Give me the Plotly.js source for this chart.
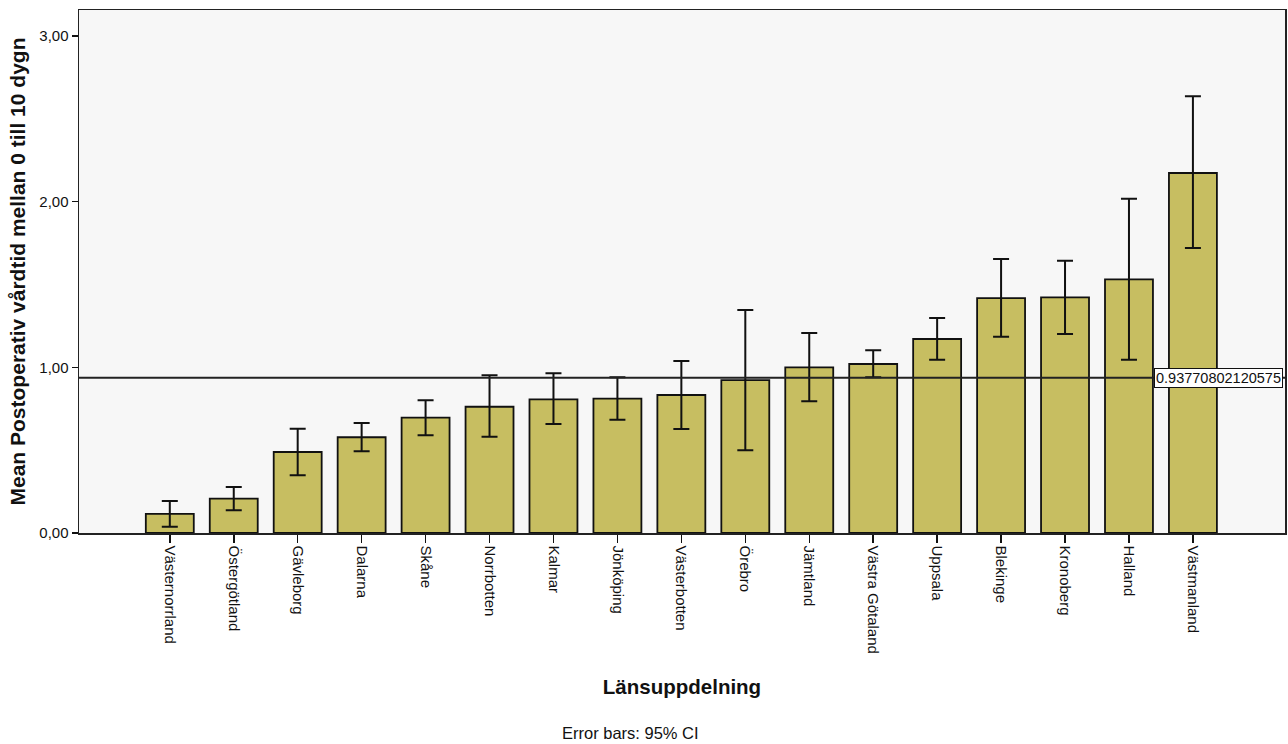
<!DOCTYPE html>
<html>
<head>
<meta charset="utf-8">
<script src="https://cdn.plot.ly/plotly-3.0.1.min.js"></script>
<style>html,body{margin:0;padding:0;background:#fff;}#chart{width:1288px;height:744px;}</style>
</head>
<body>
<div id="chart"></div>
<script>
const categories = ["Västernorrland","Östergötland","Gävleborg","Dalarna","Skåne","Norrbotten","Kalmar","Jönköping","Västerbotten","Örebro","Jämtland","Västra Götaland","Uppsala","Blekinge","Kronoberg","Halland","Västmanland"];
const means   = [0.115, 0.207, 0.489, 0.578, 0.696, 0.762, 0.807, 0.811, 0.833, 0.923, 1.000, 1.020, 1.171, 1.418, 1.422, 1.531, 2.173];
const ciUpper = [0.193, 0.278, 0.630, 0.664, 0.801, 0.952, 0.964, 0.940, 1.038, 1.346, 1.207, 1.103, 1.298, 1.654, 1.643, 2.018, 2.636];
const ciLower = [0.038, 0.137, 0.348, 0.493, 0.590, 0.581, 0.658, 0.684, 0.628, 0.499, 0.795, 0.940, 1.046, 1.185, 1.201, 1.046, 1.720];
const refValue = 0.93770802120575;
const refLabel = "0.93770802120575";

const errPlus = means.map((m,i)=>ciUpper[i]-m);
const errMinus = means.map((m,i)=>m-ciLower[i]);
const xIdx = categories.map((c,i)=>i);

const trace = {
  type: 'bar',
  x: xIdx,
  y: means,
  width: 0.75,
  marker: {color: '#c7be61', line: {color: '#111', width: 1.8}},
  error_y: {type: 'data', symmetric: false, array: errPlus, arrayminus: errMinus, color: '#111', thickness: 2, width: 8},
  hoverinfo: 'skip'
};

const font = "Liberation Sans, Arial, sans-serif";
const layout = {
  width: 1288, height: 744,
  margin: {l: 79, r: 3, t: 10, b: 211},
  paper_bgcolor: '#ffffff',
  plot_bgcolor: '#f7f7f7',
  separators: ',.',
  showlegend: false,
  font: {family: font, color: '#111', size: 15},
  xaxis: {
    range: [-1.42, 17.44],
    tickmode: 'array', tickvals: xIdx, ticktext: categories,
    tickangle: 90, ticks: 'outside', ticklen: 8, tickwidth: 1.5, tickcolor: '#111',
    showgrid: false, zeroline: false,
    showline: true, linecolor: '#222', linewidth: 1.5, mirror: true,
    tickfont: {family: font, size: 15, color: '#111'},
    title: {text: 'Länsuppdelning', font: {family: font, size: 20.5, color: '#111', weight: 'bold'}, standoff: 26}
  },
  yaxis: {
    range: [0, 3.157],
    tickvals: [0, 1, 2, 3], tickformat: '.2f',
    ticks: 'outside', ticklen: 6, tickwidth: 1.5, tickcolor: '#111',
    showgrid: false, zeroline: false,
    showline: true, linecolor: '#222', linewidth: 1.5, mirror: true,
    tickfont: {family: font, size: 15, color: '#111'},
    title: {text: 'Mean Postoperativ vårdtid mellan 0 till 10 dygn', font: {family: font, size: 21, color: '#111', weight: 'bold'}, standoff: 8}
  },
  shapes: [{type: 'line', xref: 'paper', x0: 0, x1: 1, yref: 'y', y0: refValue, y1: refValue, line: {color: '#222', width: 2}}],
  annotations: [
    {xref: 'paper', yref: 'y', x: 0.891, y: refValue, xanchor: 'left', yanchor: 'middle', text: refLabel, showarrow: false,
     font: {family: font, size: 14.5, color: '#111'}, bgcolor: '#ffffff', bordercolor: '#111', borderwidth: 1, borderpad: 1},
    {xref: 'paper', yref: 'paper', x: 0.457, y: -0.382, xanchor: 'center', yanchor: 'middle', text: 'Error bars: 95% CI', showarrow: false,
     font: {family: font, size: 16.5, color: '#111'}}
  ]
};

Plotly.newPlot('chart', [trace], layout, {displayModeBar: false, staticPlot: true});
</script>
</body>
</html>
